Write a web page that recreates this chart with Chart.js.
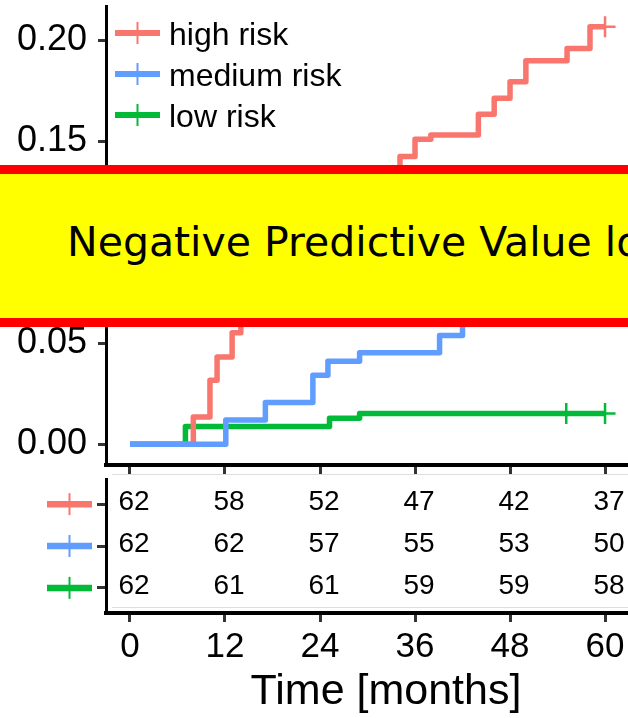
<!DOCTYPE html>
<html>
<head>
<meta charset="utf-8">
<script src="https://cdn.jsdelivr.net/npm/chart.js@4/dist/chart.umd.min.js"></script>
<style>
  html, body { margin: 0; padding: 0; background: #fff; }
  body { position: relative; width: 628px; height: 718px; overflow: hidden; }
  canvas { position: absolute; left: 0; }
  #survival { top: 0; }
  #riskTable { top: 470px; }
  .banner {
    position: absolute; left: 0; top: 165px; width: 700px; height: 162px;
    box-sizing: border-box; background: #ffff00;
    border-top: 9px solid #ff0000; border-bottom: 9px solid #ff0000;
  }
  .banner span {
    position: absolute; left: 67px; top: 48px;
    font: 41px/41px "DejaVu Sans", sans-serif; color: #000; white-space: nowrap;
  }
</style>
</head>
<body>
<canvas id="survival" width="680" height="480"></canvas>
<canvas id="riskTable" width="680" height="248"></canvas>
<div class="banner"><span>Negative Predictive Value lo</span></div>
<script>
// axis breaks
var xTicks = [0, 12, 24, 36, 48, 60];
var yTicks = [0, 0.05, 0.10, 0.15, 0.20];

var groups = ['high risk', 'medium risk', 'low risk'];
var colors = ['#F8766D', '#619CFF', '#00BA38'];

// cumulative event curves: month of each step and the value from then on
var highMonths = [0, 8, 10.1, 11, 12.9, 14, 16, 19, 22, 26, 30, 34.1, 36, 38, 44, 46, 48, 50, 55.2, 58.1, 60];
var highValues = [0, 0.0135, 0.0316, 0.0431, 0.0552, 0.067, 0.079, 0.091, 0.103, 0.115, 0.127, 0.1424, 0.151, 0.1531, 0.1633, 0.1712, 0.1794, 0.1898, 0.1959, 0.2066, 0.2066];
var highCensor = [60];

var mediumMonths = [0, 12.1, 17.1, 23.1, 25, 29, 39.1, 42, 47, 53, 60];
var mediumValues = [0, 0.012, 0.0206, 0.0341, 0.041, 0.0453, 0.0538, 0.066, 0.077, 0.088, 0.088];
var mediumCensor = [60];

var lowMonths = [0, 7, 25.2, 29, 60];
var lowValues = [0, 0.0087, 0.0128, 0.0152, 0.0152];
var lowCensor = [55.1, 60];

// numbers at risk
var riskTimes = [0, 12, 24, 36, 48, 60];
var riskHigh = [62, 58, 52, 47, 42, 37];
var riskMedium = [62, 62, 57, 55, 53, 50];
var riskLow = [62, 61, 61, 59, 59, 58];

var FONT = 'Liberation Sans';

function stepAt(months, values, t) {
  var v = values[0];
  for (var i = 0; i < months.length; i++) {
    if (months[i] <= t) v = values[i];
  }
  return v;
}

var curves = [
  { months: highMonths, values: highValues, censor: highCensor, risk: riskHigh, row: 3, order: 1 },
  { months: mediumMonths, values: mediumValues, censor: mediumCensor, risk: riskMedium, row: 2, order: 0 },
  { months: lowMonths, values: lowValues, censor: lowCensor, risk: riskLow, row: 1, order: 2 }
];

var lineSets = curves.map(function(c, i) {
  return {
    label: groups[i],
    isCurve: true,
    data: c.months.map(function(m, j) { return { x: m, y: c.values[j] }; }),
    borderColor: colors[i],
    borderWidth: 5.5,
    borderJoinStyle: 'round',
    stepped: 'before',
    pointRadius: 0,
    fill: false,
    order: c.order
  };
});

var censorSets = curves.map(function(c, i) {
  return {
    label: '',
    data: c.censor.map(function(m) { return { x: m, y: stepAt(c.months, c.values, m) }; }),
    showLine: false,
    pointStyle: 'cross',
    pointRadius: 10.5,
    pointBorderWidth: 2.5,
    borderColor: colors[i],
    backgroundColor: colors[i],
    order: c.order
  };
});

function noPadding(s) {
  s.paddingTop = 0; s.paddingBottom = 0; s.paddingLeft = 0; s.paddingRight = 0;
}

var groupLegend = {
  id: 'groupLegend',
  afterDatasetsDraw: function(chart) {
    var ctx = chart.ctx;
    var items = chart.data.datasets.filter(function(d) { return d.isCurve; });
    ctx.save();
    items.forEach(function(ds, i) {
      var y = 33 + i * 41;
      ctx.strokeStyle = ds.borderColor;
      ctx.lineWidth = 6;
      ctx.beginPath(); ctx.moveTo(115, y); ctx.lineTo(160, y); ctx.stroke();
      ctx.lineWidth = 2;
      ctx.beginPath(); ctx.moveTo(137.5, y - 11); ctx.lineTo(137.5, y + 11); ctx.stroke();
      ctx.fillStyle = '#000';
      ctx.font = '32px "' + FONT + '"';
      ctx.textBaseline = 'alphabetic';
      ctx.fillText(ds.label, 169, y + 12);
    });
    ctx.restore();
  }
};

new Chart(document.getElementById('survival'), {
  type: 'line',
  data: { datasets: lineSets.concat(censorSets) },
  options: {
    responsive: false,
    animation: false,
    devicePixelRatio: 1,
    layout: { autoPadding: false, padding: { top: 6, right: 14, bottom: 0, left: 0 } },
    plugins: { legend: { display: false }, tooltip: { enabled: false } },
    scales: {
      x: {
        type: 'linear', min: -3.03, max: 67.7,
        afterBuildTicks: function(s) { s.ticks = xTicks.map(function(v) { return { value: v }; }); },
        afterFit: function(s) { s.height = 15; noPadding(s); },
        grid: { drawOnChartArea: false, drawTicks: true, tickLength: 10, tickWidth: 3, tickColor: '#333' },
        border: { display: true, color: '#000', width: 4 },
        ticks: { display: false }
      },
      y: {
        type: 'linear', min: -0.0103, max: 0.2169,
        afterBuildTicks: function(s) { s.ticks = yTicks.map(function(v) { return { value: v }; }); },
        afterFit: function(s) { s.width = 106; noPadding(s); },
        grid: { drawOnChartArea: false, drawTicks: true, tickLength: 8, tickWidth: 3, tickColor: '#333' },
        border: { display: true, color: '#000', width: 3 },
        ticks: {
          font: { family: FONT, size: 36 }, color: '#000', padding: 11,
          callback: function(v) { return v.toFixed(2); }
        }
      }
    }
  },
  plugins: [groupLegend]
});

// risk table: one invisible point per cell, labelled with its count
var riskSets = curves.map(function(c, i) {
  return {
    label: groups[i],
    data: riskTimes.map(function(t, j) { return { x: t, y: c.row, n: c.risk[j] }; }),
    pointRadius: 0,
    borderColor: colors[i]
  };
});

var riskCells = {
  id: 'riskCells',
  afterDatasetsDraw: function(chart) {
    var ctx = chart.ctx;
    var yScale = chart.scales.y;
    var area = chart.chartArea;
    ctx.save();
    // faint panel rules
    ctx.strokeStyle = '#dddddd';
    ctx.lineWidth = 1;
    ctx.beginPath();
    ctx.moveTo(area.left + 6, area.top - 4.5); ctx.lineTo(area.right, area.top - 4.5);
    ctx.moveTo(area.left + 6, area.bottom - 5.5); ctx.lineTo(area.right, area.bottom - 5.5);
    ctx.stroke();

    ctx.font = '28px "' + FONT + '"';
    ctx.fillStyle = '#000';
    ctx.textAlign = 'center';
    ctx.textBaseline = 'middle';
    chart.data.datasets.forEach(function(ds, i) {
      var meta = chart.getDatasetMeta(i);
      meta.data.forEach(function(el, j) {
        ctx.fillText(String(ds.data[j].n), el.x + 4, el.y - 2);
      });
      // group key in place of the row label
      var y = yScale.getPixelForValue(ds.data[0].y);
      ctx.strokeStyle = ds.borderColor;
      ctx.lineWidth = 6.5;
      ctx.beginPath(); ctx.moveTo(47, y); ctx.lineTo(92, y); ctx.stroke();
      ctx.lineWidth = 2;
      ctx.beginPath(); ctx.moveTo(69.5, y - 11); ctx.lineTo(69.5, y + 11); ctx.stroke();
    });
    ctx.restore();
  }
};

new Chart(document.getElementById('riskTable'), {
  type: 'scatter',
  data: { datasets: riskSets },
  options: {
    responsive: false,
    animation: false,
    devicePixelRatio: 1,
    layout: { autoPadding: false, padding: { top: 9, right: 14, bottom: 0, left: 0 } },
    plugins: { legend: { display: false }, tooltip: { enabled: false } },
    scales: {
      x: {
        type: 'linear', min: -3.03, max: 67.7,
        afterBuildTicks: function(s) { s.ticks = xTicks.map(function(v) { return { value: v }; }); },
        afterFit: function(s) { s.height = 105; noPadding(s); },
        grid: { drawOnChartArea: false, drawTicks: true, tickLength: 9, tickWidth: 3, tickColor: '#333' },
        border: { display: true, color: '#000', width: 4 },
        ticks: { font: { family: FONT, size: 35 }, color: '#000', padding: 4, autoSkip: false, maxRotation: 0 },
        title: {
          display: true, text: 'Time [months]', color: '#000',
          font: { family: FONT, size: 43 }, padding: 0
        }
      },
      y: {
        type: 'linear', min: 0.4, max: 3.6,
        afterBuildTicks: function(s) { s.ticks = [1, 2, 3].map(function(v) { return { value: v }; }); },
        afterFit: function(s) { s.width = 106; noPadding(s); },
        grid: { drawOnChartArea: false, drawTicks: true, tickLength: 9, tickWidth: 3, tickColor: '#333' },
        border: { display: true, color: '#000', width: 3 },
        ticks: { display: false }
      }
    }
  },
  plugins: [riskCells]
});
</script>
</body>
</html>
